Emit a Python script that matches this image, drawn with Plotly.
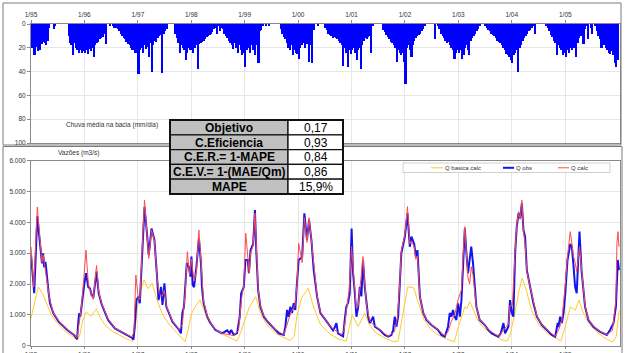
import plotly.graph_objects as go

W, H = 625, 353

# ---------------- data ----------------
YEARS = list(range(1995, 2006))
TICK_DATES = [f"{y}-01-01" for y in YEARS]
TICK_LABELS = ["1/95", "1/96", "1/97", "1/98", "1/99", "1/00", "1/01", "1/02", "1/03", "1/04", "1/05"]

# rainfall (mm/day), one value per dekad (days 1, 11, 21 of each month)
RAIN_1995 = [20, 18, 26, 19, 23, 21, 22, 17, 15, 16, 18, 14, 3, 0, 0, 4, 2, 0, 0, 0, 0, 0, 0, 0, 0, 10, 16, 18, 26, 16, 20, 22, 24, 22, 24, 23]
RAIN_1996 = [24, 22, 25, 21, 23, 20, 28, 18, 16, 15, 13, 12, 11, 8, 17, 0, 0, 2, 0, 2, 3, 3, 4, 6, 8, 10, 12, 13, 15, 17, 18, 20, 22, 21, 24, 22]
RAIN_1997 = [42, 22, 20, 24, 18, 21, 19, 28, 16, 40, 18, 14, 15, 12, 10, 9, 41, 8, 6, 4, 0, 0, 0, 0, 0, 8, 12, 16, 24, 18, 20, 22, 30, 24, 20, 22]
RAIN_1998 = [22, 24, 20, 18, 38, 17, 16, 15, 14, 13, 11, 10, 9, 8, 7, 4, 3, 8, 2, 6, 3, 4, 8, 10, 12, 14, 16, 18, 21, 16, 20, 24, 18, 22, 26, 24]
RAIN_1999 = [36, 22, 20, 24, 18, 22, 20, 26, 18, 33, 6, 5, 2, 0, 1, 0, 2, 0, 0, 0, 0, 0, 0, 0, 4, 8, 11, 13, 16, 20, 22, 18, 26, 22, 24, 25]
RAIN_2000 = [29, 20, 18, 16, 20, 15, 17, 32, 18, 33, 5, 0, 0, 2, 0, 0, 0, 0, 3, 5, 8, 9, 10, 12, 11, 12, 13, 14, 16, 18, 35, 20, 24, 36, 22, 25]
RAIN_2001 = [22, 20, 24, 30, 22, 20, 38, 18, 14, 12, 13, 11, 10, 24, 2, 0, 0, 0, 0, 0, 0, 5, 7, 9, 11, 13, 15, 16, 18, 20, 32, 22, 24, 26, 24, 32]
RAIN_2002 = [50, 20, 18, 22, 28, 18, 14, 12, 10, 9, 8, 6, 4, 2, 0, 0, 0, 0, 0, 0, 13, 0, 2, 4, 8, 10, 12, 14, 16, 15, 18, 20, 22, 29, 24, 22]
RAIN_2003 = [24, 22, 29, 26, 20, 18, 22, 26, 14, 12, 10, 8, 6, 4, 2, 0, 0, 0, 2, 3, 5, 6, 8, 9, 10, 12, 14, 15, 16, 18, 20, 22, 25, 26, 28, 30]
RAIN_2004 = [33, 26, 24, 22, 40, 20, 18, 14, 12, 10, 8, 6, 5, 3, 2, 8, 0, 0, 0, 0, 0, 0, 0, 2, 3, 6, 9, 11, 14, 16, 26, 18, 20, 22, 26, 24]
RAIN_2005 = [28, 22, 24, 20, 22, 18, 20, 28, 16, 12, 10, 6, 17, 4, 2, 13, 0, 3, 8, 0, 2, 6, 10, 13, 20, 16, 18, 20, 22, 24, 25, 23, 26, 33, 36, 30]
RAIN_BY_YEAR = [RAIN_1995, RAIN_1996, RAIN_1997, RAIN_1998, RAIN_1999, RAIN_2000,
                RAIN_2001, RAIN_2002, RAIN_2003, RAIN_2004, RAIN_2005]

# observed discharge (m3/s)
Q_OBS = [
    ("1995-01-01", 2950), ("1995-01-16", 2130), ("1995-01-23", 1700), ("1995-02-13", 4200),
    ("1995-03-01", 3500), ("1995-03-17", 2670), ("1995-03-25", 3000), ("1995-04-01", 2550),
    ("1995-04-10", 2720), ("1995-04-20", 2130), ("1995-05-02", 1700), ("1995-05-11", 1375),
    ("1995-06-03", 1050), ("1995-07-09", 780), ("1995-09-06", 510), ("1995-10-22", 350),
    ("1995-11-12", 215), ("1995-11-18", 620), ("1995-11-26", 1050), ("1995-12-04", 940),
    ("1995-12-18", 1600), ("1996-01-01", 2020), ("1996-01-12", 2350), ("1996-01-28", 1900),
    ("1996-02-08", 1860), ("1996-02-20", 1630), ("1996-03-03", 1590), ("1996-03-24", 2400),
    ("1996-04-08", 1700), ("1996-04-26", 1375), ("1996-05-19", 1100), ("1996-06-12", 830),
    ("1996-07-28", 560), ("1996-10-06", 380), ("1996-11-20", 260), ("1996-12-01", 200),
    ("1996-12-10", 620), ("1996-12-22", 1480), ("1997-01-04", 1590), ("1997-01-14", 1375),
    ("1997-01-26", 2560), ("1997-02-05", 3860), ("1997-02-15", 4500), ("1997-03-04", 3640),
    ("1997-03-16", 2940), ("1997-04-04", 3800), ("1997-04-24", 3430), ("1997-05-10", 2350),
    ("1997-05-22", 1480), ("1997-06-08", 1910), ("1997-06-18", 1320), ("1997-07-01", 2020),
    ("1997-07-14", 1270), ("1997-08-25", 780), ("1997-10-10", 510), ("1997-10-22", 400),
    ("1997-11-01", 1060), ("1997-11-12", 1265), ("1997-11-20", 1910), ("1997-12-01", 2680),
    ("1997-12-15", 2560), ("1997-12-26", 2240), ("1998-01-02", 2890), ("1998-01-10", 1970),
    ("1998-01-20", 1900), ("1998-02-05", 2560), ("1998-02-22", 3480), ("1998-03-08", 2680),
    ("1998-03-15", 1900), ("1998-03-26", 1380), ("1998-04-20", 940), ("1998-05-12", 735),
    ("1998-06-15", 510), ("1998-07-30", 400), ("1998-09-03", 500), ("1998-09-20", 400),
    ("1998-10-01", 510), ("1998-10-18", 350), ("1998-11-10", 410), ("1998-11-28", 940),
    ("1998-12-08", 1700), ("1998-12-26", 1910), ("1999-01-06", 2780), ("1999-01-22", 2780),
    ("1999-01-30", 2350), ("1999-02-10", 3100), ("1999-02-28", 3300), ("1999-03-12", 4400),
    ("1999-03-22", 2990), ("1999-04-03", 1800), ("1999-04-18", 1265), ("1999-05-12", 940),
    ("1999-06-15", 735), ("1999-07-20", 550), ("1999-08-22", 400), ("1999-09-25", 347),
    ("1999-10-06", 616), ("1999-10-18", 1160), ("1999-10-29", 940), ("1999-11-09", 1265),
    ("1999-11-20", 1060), ("1999-12-02", 1375), ("1999-12-13", 1160), ("1999-12-21", 1800),
    ("2000-01-05", 2780), ("2000-01-29", 2880), ("2000-02-13", 4290), ("2000-03-02", 3430),
    ("2000-03-16", 4080), ("2000-04-01", 3430), ("2000-04-17", 2450), ("2000-05-10", 1590),
    ("2000-06-02", 1060), ("2000-07-08", 830), ("2000-08-12", 600), ("2000-08-27", 500),
    ("2000-09-08", 600), ("2000-09-19", 735), ("2000-09-30", 400), ("2000-10-23", 347),
    ("2000-11-04", 300), ("2000-11-15", 833), ("2000-11-26", 1265), ("2000-12-08", 1400),
    ("2000-12-19", 1700), ("2001-01-01", 3800), ("2001-01-11", 2350), ("2001-01-23", 1700),
    ("2001-02-03", 940), ("2001-02-15", 1265), ("2001-02-26", 1910), ("2001-03-09", 1600),
    ("2001-03-20", 2780), ("2001-04-01", 1900), ("2001-04-13", 1265), ("2001-04-24", 940),
    ("2001-05-06", 735), ("2001-05-17", 830), ("2001-05-28", 940), ("2001-06-09", 616),
    ("2001-07-13", 510), ("2001-08-16", 347), ("2001-09-08", 292), ("2001-09-30", 347),
    ("2001-10-12", 510), ("2001-10-23", 940), ("2001-11-03", 616), ("2001-11-15", 940),
    ("2001-11-26", 1910), ("2001-12-07", 3000), ("2001-12-31", 3540), ("2002-01-18", 4290),
    ("2002-02-03", 3210), ("2002-02-14", 3540), ("2002-03-05", 3300), ("2002-03-16", 2890),
    ("2002-03-27", 3100), ("2002-04-05", 2240), ("2002-04-13", 1590), ("2002-05-06", 1060),
    ("2002-05-28", 833), ("2002-07-01", 670), ("2002-08-15", 510), ("2002-09-07", 347),
    ("2002-09-30", 292), ("2002-10-22", 616), ("2002-11-03", 1060), ("2002-11-14", 940),
    ("2002-11-25", 1160), ("2002-12-07", 940), ("2002-12-18", 833), ("2002-12-30", 1375),
    ("2003-01-11", 940), ("2003-01-22", 1480), ("2003-02-02", 2780), ("2003-02-14", 3800),
    ("2003-02-25", 3000), ("2003-03-08", 2350), ("2003-03-19", 2780), ("2003-03-30", 3210),
    ("2003-04-11", 2680), ("2003-04-22", 1910), ("2003-05-04", 1265), ("2003-05-27", 833),
    ("2003-06-18", 735), ("2003-07-01", 670), ("2003-07-25", 510), ("2003-08-17", 400),
    ("2003-09-09", 347), ("2003-10-01", 292), ("2003-10-18", 400), ("2003-11-05", 735),
    ("2003-11-16", 400), ("2003-12-09", 616), ("2003-12-20", 1480), ("2004-01-01", 1060),
    ("2004-01-12", 940), ("2004-01-24", 3000), ("2004-02-04", 3860), ("2004-02-16", 4290),
    ("2004-02-27", 4130), ("2004-03-10", 4620), ("2004-03-21", 3750), ("2004-04-01", 3540),
    ("2004-04-13", 2450), ("2004-05-06", 1910), ("2004-05-28", 1375), ("2004-06-21", 940),
    ("2004-07-25", 670), ("2004-08-28", 510), ("2004-10-01", 347), ("2004-10-24", 292),
    ("2004-11-02", 510), ("2004-11-10", 735), ("2004-11-15", 600), ("2004-11-27", 940),
    ("2004-12-08", 735), ("2004-12-20", 1060), ("2005-01-01", 1700), ("2005-01-16", 2780),
    ("2005-02-04", 3300), ("2005-02-15", 3210), ("2005-02-26", 2600), ("2005-03-09", 1910),
    ("2005-03-20", 1700), ("2005-04-08", 3700), ("2005-04-22", 2450), ("2005-05-16", 1265),
    ("2005-06-08", 833), ("2005-07-12", 616), ("2005-08-27", 450), ("2005-10-12", 347),
    ("2005-11-03", 510), ("2005-11-27", 735), ("2005-12-13", 1265), ("2005-12-26", 2780),
    ("2006-01-03", 2450),
]

# calculated discharge (m3/s)
Q_CALC = [
    ("1995-01-01", 3200), ("1995-01-20", 1900), ("1995-02-13", 4500), ("1995-03-01", 3500),
    ("1995-03-17", 2700), ("1995-03-25", 2950), ("1995-04-05", 2600), ("1995-04-20", 2100),
    ("1995-05-05", 1600), ("1995-06-01", 1080), ("1995-07-09", 800), ("1995-09-06", 520),
    ("1995-10-22", 360), ("1995-11-12", 250), ("1995-11-25", 700), ("1995-12-10", 1200),
    ("1995-12-25", 2000), ("1996-01-12", 3100), ("1996-01-28", 2000), ("1996-02-10", 1800),
    ("1996-03-01", 1500), ("1996-03-24", 2600), ("1996-04-08", 1750), ("1996-04-26", 1400),
    ("1996-05-19", 1100), ("1996-06-12", 850), ("1996-07-28", 570), ("1996-10-06", 390),
    ("1996-11-20", 280), ("1996-12-05", 450), ("1996-12-18", 2290), ("1997-01-04", 1500),
    ("1997-01-14", 1500), ("1997-01-26", 2700), ("1997-02-05", 3900), ("1997-02-15", 4720),
    ("1997-03-04", 3600), ("1997-03-16", 2830), ("1997-04-04", 3750), ("1997-04-24", 3400),
    ("1997-05-10", 2300), ("1997-05-25", 1700), ("1997-06-15", 1600), ("1997-07-01", 1800),
    ("1997-07-14", 1300), ("1997-08-25", 800), ("1997-10-10", 520), ("1997-11-01", 700),
    ("1997-11-20", 1700), ("1997-12-05", 3050), ("1997-12-20", 2300), ("1998-01-02", 2800),
    ("1998-01-20", 2100), ("1998-02-05", 2400), ("1998-02-22", 3750), ("1998-03-08", 2600),
    ("1998-03-26", 1450), ("1998-04-20", 960), ("1998-05-12", 750), ("1998-06-15", 520),
    ("1998-07-30", 400), ("1998-10-18", 330), ("1998-11-20", 500), ("1998-12-10", 1500),
    ("1998-12-26", 2000), ("1999-01-08", 3650), ("1999-01-22", 2780), ("1999-02-01", 2350),
    ("1999-02-10", 3000), ("1999-02-28", 3250), ("1999-03-12", 4300), ("1999-03-22", 3000),
    ("1999-04-03", 1850), ("1999-04-18", 1300), ("1999-05-12", 960), ("1999-06-15", 750),
    ("1999-07-20", 560), ("1999-09-25", 350), ("1999-10-20", 700), ("1999-11-15", 1100),
    ("1999-12-10", 1300), ("1999-12-25", 2000), ("2000-01-05", 3320), ("2000-01-29", 2700),
    ("2000-02-13", 4150), ("2000-03-02", 3350), ("2000-03-16", 4150), ("2000-04-01", 3400),
    ("2000-04-17", 2500), ("2000-05-10", 1620), ("2000-06-02", 1080), ("2000-07-08", 840),
    ("2000-08-12", 600), ("2000-10-23", 360), ("2000-11-10", 500), ("2000-11-26", 1100),
    ("2000-12-15", 1800), ("2001-01-01", 3210), ("2001-01-11", 2400), ("2001-01-23", 1800),
    ("2001-02-03", 1200), ("2001-02-15", 1300), ("2001-02-26", 1800), ("2001-03-20", 2890),
    ("2001-04-01", 2000), ("2001-04-13", 1300), ("2001-05-06", 800), ("2001-06-09", 640),
    ("2001-07-13", 520), ("2001-09-08", 300), ("2001-10-20", 450), ("2001-11-10", 900),
    ("2001-11-26", 2000), ("2001-12-07", 3100), ("2001-12-31", 3600), ("2002-01-18", 4510),
    ("2002-02-03", 3300), ("2002-02-14", 3400), ("2002-03-05", 3200), ("2002-03-16", 2800),
    ("2002-03-27", 2900), ("2002-04-05", 2200), ("2002-04-13", 1600), ("2002-05-06", 1080),
    ("2002-05-28", 850), ("2002-07-01", 680), ("2002-08-15", 520), ("2002-09-30", 320),
    ("2002-10-22", 450), ("2002-11-14", 800), ("2002-12-07", 1000), ("2002-12-30", 1500),
    ("2003-01-22", 1800), ("2003-02-02", 2900), ("2003-02-14", 3860), ("2003-02-25", 3000),
    ("2003-03-08", 2200), ("2003-03-19", 2000), ("2003-03-30", 2560), ("2003-04-11", 2300),
    ("2003-04-22", 1800), ("2003-05-04", 1250), ("2003-05-27", 850), ("2003-06-18", 740),
    ("2003-07-25", 520), ("2003-09-09", 360), ("2003-10-01", 300), ("2003-11-05", 500),
    ("2003-12-09", 700), ("2003-12-20", 1300), ("2004-01-05", 1300), ("2004-01-24", 3100),
    ("2004-02-04", 3900), ("2004-02-16", 4350), ("2004-02-27", 4100), ("2004-03-10", 4720),
    ("2004-03-21", 3700), ("2004-04-01", 3300), ("2004-04-13", 2400), ("2004-05-06", 1900),
    ("2004-05-28", 1400), ("2004-06-21", 960), ("2004-07-25", 680), ("2004-08-28", 520),
    ("2004-10-24", 300), ("2004-11-15", 500), ("2004-12-08", 800), ("2004-12-20", 1300),
    ("2005-01-01", 2000), ("2005-01-16", 2900), ("2005-02-04", 3700), ("2005-02-15", 3300),
    ("2005-02-26", 2900), ("2005-03-09", 2700), ("2005-03-20", 2400), ("2005-04-08", 3210),
    ("2005-04-22", 2400), ("2005-05-16", 1300), ("2005-06-08", 850), ("2005-07-12", 630),
    ("2005-08-27", 460), ("2005-10-12", 350), ("2005-11-20", 500), ("2005-12-13", 1500),
    ("2005-12-20", 3320), ("2005-12-27", 3700), ("2006-01-03", 3210),
]

# calculated base flow (m3/s)
Q_BASE = [
    ("1995-01-01", 900), ("1995-01-20", 1250), ("1995-02-20", 1900), ("1995-03-20", 1700),
    ("1995-04-20", 1350), ("1995-05-20", 1000), ("1995-06-20", 800), ("1995-07-25", 600),
    ("1995-09-01", 430), ("1995-10-10", 300), ("1995-11-15", 180), ("1995-12-01", 350),
    ("1995-12-20", 800), ("1996-01-14", 1100), ("1996-02-15", 950), ("1996-03-23", 1200),
    ("1996-04-20", 900), ("1996-05-20", 680), ("1996-07-01", 500), ("1996-09-01", 330),
    ("1996-10-20", 200), ("1996-11-25", 130), ("1996-12-10", 400), ("1996-12-28", 1200),
    ("1997-01-20", 1800), ("1997-02-12", 2130), ("1997-03-10", 1850), ("1997-04-08", 2020),
    ("1997-05-10", 1500), ("1997-06-20", 1000), ("1997-08-01", 700), ("1997-09-20", 450),
    ("1997-11-01", 250), ("1997-11-20", 130), ("1997-12-10", 500), ("1997-12-30", 1000),
    ("1998-02-01", 1300), ("1998-03-01", 1480), ("1998-03-25", 1200), ("1998-05-01", 750),
    ("1998-06-20", 500), ("1998-08-20", 330), ("1998-10-10", 220), ("1998-11-10", 150),
    ("1998-12-10", 500), ("1999-01-05", 870), ("1999-02-01", 1250), ("1999-03-18", 1590),
    ("1999-04-20", 1050), ("1999-06-01", 680), ("1999-08-01", 400), ("1999-10-01", 250),
    ("1999-11-10", 170), ("1999-12-05", 300), ("1999-12-25", 1000), ("2000-01-25", 1550),
    ("2000-03-10", 1860), ("2000-04-20", 1200), ("2000-06-01", 700), ("2000-08-01", 400),
    ("2000-10-01", 220), ("2000-11-25", 150), ("2000-12-20", 700), ("2001-01-05", 1000),
    ("2001-02-15", 620), ("2001-04-01", 1060), ("2001-05-01", 700), ("2001-06-15", 420),
    ("2001-08-15", 250), ("2001-10-15", 130), ("2001-11-15", 150), ("2001-12-15", 900),
    ("2002-01-20", 1910), ("2002-03-01", 1880), ("2002-04-01", 1400), ("2002-05-10", 850),
    ("2002-07-01", 500), ("2002-09-01", 300), ("2002-11-01", 180), ("2002-12-05", 130),
    ("2002-12-25", 500), ("2003-01-25", 1000), ("2003-02-14", 1265), ("2003-03-01", 1200),
    ("2003-03-20", 1430), ("2003-04-15", 1150), ("2003-05-15", 800), ("2003-07-01", 550),
    ("2003-09-01", 350), ("2003-10-20", 200), ("2003-12-01", 150), ("2003-12-20", 350),
    ("2004-01-20", 1000), ("2004-02-20", 1800), ("2004-03-12", 2190), ("2004-04-10", 1800),
    ("2004-05-15", 1150), ("2004-07-01", 700), ("2004-09-01", 400), ("2004-10-20", 250),
    ("2004-12-01", 150), ("2004-12-25", 500), ("2005-01-20", 1000), ("2005-02-05", 1265),
    ("2005-03-10", 1150), ("2005-04-05", 1480), ("2005-05-01", 1100), ("2005-06-15", 700),
    ("2005-08-15", 400), ("2005-10-15", 200), ("2005-11-20", 120), ("2005-12-15", 300),
    ("2006-01-05", 1160),
]

TABLE_LABELS = ["Objetivo", "C.Eficiencia", "C.E.R.= 1-MAPE", "C.E.V.= 1-(MAE/Qm)", "MAPE"]
TABLE_VALUES = ["0,17", "0,93", "0,84", "0,86", "15,9%"]

SERIES_NAMES = ["Q basica calc", "Q obs", "Q calc"]

# ---------------- helpers ----------------
def fx(x):
    return x / W


def fy(y):
    return 1 - y / H


rain_dates, rain_vals = [], []
for yr, vals in zip(YEARS, RAIN_BY_YEAR):
    for i, v in enumerate(vals):
        rain_dates.append(f"{yr}-{i // 3 + 1:02d}-{[1, 11, 21][i % 3]:02d}")
        rain_vals.append(v)

FONT = "Liberation Sans, Arial, sans-serif"
X_RANGE = ["1995-01-01", "2006-01-10"]
GRID = "#e6e6e6"
AXLINE = "#8a8a8a"

fig = go.Figure()

fig.add_trace(go.Bar(
    x=rain_dates, y=rain_vals, width=11.5 * 86400000, offset=0,
    marker=dict(color="#0000ff", line=dict(width=0)),
    xaxis="x", yaxis="y", showlegend=False, hoverinfo="skip",
))

COLORS = ["#ffc926", "#1414f0", "#ff4a4a"]
WIDTHS = [1, 2, 1]
for name, pts, col, w in zip(SERIES_NAMES, [Q_BASE, Q_OBS, Q_CALC], COLORS, WIDTHS):
    fig.add_trace(go.Scatter(
        x=[p[0] for p in pts], y=[p[1] for p in pts], mode="lines", name=name,
        line=dict(color=col, width=w), xaxis="x2", yaxis="y2", showlegend=False,
    ))

tick_font = dict(family=FONT, size=6.5, color="#333333")
common_x = dict(
    range=X_RANGE, type="date", tickmode="array", tickvals=TICK_DATES, ticktext=TICK_LABELS,
    showgrid=True, gridcolor=GRID, gridwidth=1, showline=True, linecolor=AXLINE, mirror=True,
    ticks="outside", ticklen=3, tickcolor=AXLINE, tickfont=tick_font, automargin=False,
    zeroline=False, domain=[fx(31), fx(620)],
)

fig.update_layout(
    width=W, height=H, margin=dict(l=0, r=0, t=0, b=0),
    paper_bgcolor="white", plot_bgcolor="white",
    separators=",.", bargap=0,
    xaxis=dict(common_x, anchor="y", side="top"),
    yaxis=dict(
        domain=[fy(143), fy(24)], range=[100, 0], tickmode="array",
        tickvals=[0, 20, 40, 60, 80, 100], showgrid=True, gridcolor=GRID,
        showline=True, linecolor=AXLINE, mirror=True, ticks="outside", ticklen=3,
        tickcolor=AXLINE, tickfont=tick_font, automargin=False, zeroline=False,
    ),
    xaxis2=dict(common_x, anchor="y2", side="bottom", ticklen=2),
    yaxis2=dict(
        domain=[fy(345.7), fy(160.7)], range=[0, 6000], tickmode="array",
        tickvals=[0, 1000, 2000, 3000, 4000, 5000, 6000], tickformat=",d",
        showgrid=True, gridcolor=GRID, showline=True, linecolor=AXLINE, mirror=True,
        ticks="outside", ticklen=3, tickcolor=AXLINE, tickfont=tick_font,
        automargin=False, zeroline=False,
    ),
)

shapes = []
annotations = []

# outer chart boxes
shapes.append(dict(type="rect", xref="paper", yref="paper", x0=fx(3), x1=fx(621),
                   y0=fy(145), y1=fy(3), line=dict(color="#7a7a7a", width=1), layer="above"))
shapes.append(dict(type="rect", xref="paper", yref="paper", x0=fx(3), x1=fx(622),
                   y0=fy(362), y1=fy(146.5), line=dict(color="#7a7a7a", width=1), layer="above"))

# legend box
shapes.append(dict(type="rect", xref="paper", yref="paper", x0=fx(403), x1=fx(610),
                   y0=fy(172.5), y1=fy(163), line=dict(color="#cfcfcf", width=1),
                   fillcolor="white", layer="above"))
LEG_X = [(431, 443), (503, 514), (558, 569)]
for name, col, w, (lx0, lx1) in zip(SERIES_NAMES, COLORS, WIDTHS, LEG_X):
    shapes.append(dict(type="line", xref="paper", yref="paper", x0=fx(lx0), x1=fx(lx1),
                       y0=fy(167.8), y1=fy(167.8), line=dict(color=col, width=w), layer="above"))
    annotations.append(dict(text=name, xref="paper", yref="paper", x=fx(lx1), y=fy(167.8),
                            xanchor="left", yanchor="middle", showarrow=False,
                            font=dict(family=FONT, size=6, color="#333333")))

# statistics table
ROW_EDGES = [120, 134.8, 149.6, 164.4, 179.2, 194]
TX0, TXM, TX1 = 170, 288, 343
for i, (lab, val) in enumerate(zip(TABLE_LABELS, TABLE_VALUES)):
    y0, y1 = ROW_EDGES[i], ROW_EDGES[i + 1]
    shapes.append(dict(type="rect", xref="paper", yref="paper", x0=fx(TX0), x1=fx(TXM),
                       y0=fy(y1), y1=fy(y0), fillcolor="#c0c0c0",
                       line=dict(color="#111111", width=1.3), layer="above"))
    shapes.append(dict(type="rect", xref="paper", yref="paper", x0=fx(TXM), x1=fx(TX1),
                       y0=fy(y1), y1=fy(y0), fillcolor="white",
                       line=dict(color="#111111", width=1.3), layer="above"))
    ym = (y0 + y1) / 2
    annotations.append(dict(text=f"<b>{lab}</b>", xref="paper", yref="paper",
                            x=fx((TX0 + TXM) / 2), y=fy(ym + 0.3), xanchor="center",
                            yanchor="middle", showarrow=False,
                            font=dict(family=FONT, size=12, color="black")))
    annotations.append(dict(text=val, xref="paper", yref="paper",
                            x=fx((TXM + TX1) / 2), y=fy(ym + 0.3), xanchor="center",
                            yanchor="middle", showarrow=False,
                            font=dict(family=FONT, size=12, color="black")))
shapes.append(dict(type="rect", xref="paper", yref="paper", x0=fx(TX0), x1=fx(TX1),
                   y0=fy(194), y1=fy(120), line=dict(color="#111111", width=2), layer="above"))

# panel captions
annotations.append(dict(text="Chuva média na bacia (mm/dia)", xref="paper", yref="paper",
                        x=fx(112), y=fy(124.5), xanchor="center", yanchor="middle",
                        showarrow=False, font=dict(family=FONT, size=6.5, color="#333333")))
annotations.append(dict(text="Vazões (m3/s)", xref="paper", yref="paper",
                        x=fx(78), y=fy(152.5), xanchor="center", yanchor="middle",
                        showarrow=False, font=dict(family=FONT, size=6.5, color="#333333")))

fig.update_layout(shapes=shapes, annotations=annotations)

fig.write_html("out.html", config={"displayModeBar": False})
